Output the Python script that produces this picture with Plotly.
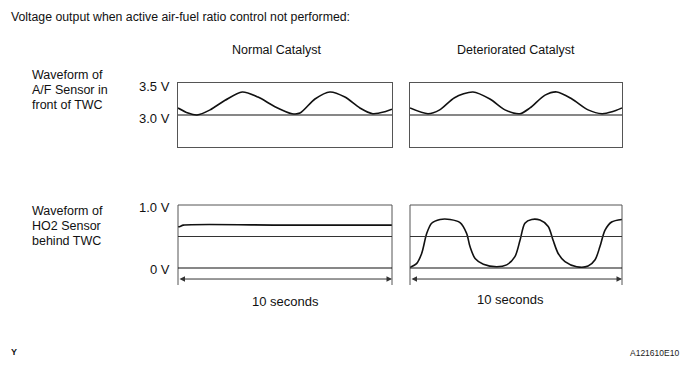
import plotly.graph_objects as go

# ---------------- data ----------------
title_text = "Voltage output when active air-fuel ratio control not performed:"
column_titles = ["Normal Catalyst", "Deteriorated Catalyst"]
row_labels_top = ["Waveform of", "A/F Sensor in", "front of TWC"]
row_labels_bot = ["Waveform of", "HO2 Sensor", "behind TWC"]
af_tick_vals = [3.5, 3.0]
af_tick_text = ["3.5 V", "3.0 V"]
ho2_tick_vals = [1.0, 0.0]
ho2_tick_text = ["1.0 V", "0 V"]
duration_label = "10 seconds"
duration_s = 10

# A/F sensor, normal catalyst (time s, voltage V)
af_normal_t = [0, 0.47, 0.89, 1.5, 2.2, 3.0, 3.74, 4.53, 5.33, 5.7, 6.4, 7.1, 7.8, 8.5, 9.1, 9.67, 10]
af_normal_v = [3.11, 3.03, 3.0, 3.08, 3.23, 3.36, 3.28, 3.13, 3.02, 3.03, 3.25, 3.36, 3.28, 3.11, 3.02, 3.05, 3.09]

# A/F sensor, deteriorated catalyst
af_det_t = [0, 0.85, 1.4, 2.1, 2.97, 3.77, 4.48, 5.19, 5.66, 6.37, 6.93, 7.64, 8.4, 9.06, 9.53, 10]
af_det_v = [3.11, 3.02, 3.08, 3.27, 3.36, 3.25, 3.08, 3.02, 3.11, 3.31, 3.36, 3.25, 3.08, 3.02, 3.05, 3.11]

# HO2 sensor, normal catalyst
ho2_normal_t = [0, 0.1, 0.25, 5, 10]
ho2_normal_v = [0.655, 0.66, 0.68, 0.68, 0.68]

# HO2 sensor, deteriorated catalyst
ho2_det_t = [0, 0.31, 0.55, 0.79, 1.02, 1.42, 1.89, 2.36, 2.67, 2.83, 3.07, 3.46, 4.09, 4.56, 4.95,
             5.19, 5.42, 5.74, 6.13, 6.52, 6.75, 6.99, 7.31, 7.86, 8.4, 8.73, 8.96, 9.2, 9.51, 10]
ho2_det_v = [0.01, 0.07, 0.23, 0.55, 0.71, 0.77, 0.77, 0.72, 0.55, 0.34, 0.15, 0.06, 0.02, 0.05, 0.18,
             0.44, 0.71, 0.77, 0.76, 0.66, 0.44, 0.23, 0.10, 0.02, 0.03, 0.13, 0.34, 0.60, 0.73, 0.77]

af_mid = 3.0
ho2_mid = 0.5
ho2_zero = 0.0

# ---------------- layout helpers ----------------
W, H = 688, 369
FONT = "Liberation Sans, Arial, sans-serif"


def px(x):
    return x / W


def py(y):
    return 1 - y / H


left_dom = [px(178), px(392)]
right_dom = [px(410), px(622)]
top_dom = [py(147), py(83)]
bot_dom = [py(285), py(205)]
af_range = [2.5, 3.5]
ho2_range = [-0.27, 1.0]
arrow_y = -0.175

fig = go.Figure()
wave_line = dict(color="#111111", width=1.6, shape="spline", smoothing=0.8)
fig.add_trace(go.Scatter(x=af_normal_t, y=af_normal_v, mode="lines", line=wave_line, xaxis="x", yaxis="y"))
fig.add_trace(go.Scatter(x=af_det_t, y=af_det_v, mode="lines", line=wave_line, xaxis="x2", yaxis="y2"))
fig.add_trace(go.Scatter(x=ho2_normal_t, y=ho2_normal_v, mode="lines", line=wave_line, xaxis="x3", yaxis="y3"))
fig.add_trace(go.Scatter(x=ho2_det_t, y=ho2_det_v, mode="lines", line=wave_line, xaxis="x4", yaxis="y4"))

box_color = "#555555"


def xax(dom, anchor, mirror):
    return dict(domain=dom, range=[0, duration_s], anchor=anchor, showgrid=False, zeroline=False,
                showticklabels=False, ticks="", showline=mirror, mirror=mirror,
                linecolor=box_color, linewidth=1, fixedrange=True)


def yax(dom, rng, anchor, mirror):
    return dict(domain=dom, range=rng, anchor=anchor, showgrid=False, zeroline=False,
                showticklabels=False, ticks="", showline=mirror, mirror=mirror,
                linecolor=box_color, linewidth=1, fixedrange=True)


shapes = []
annotations = []

# bottom panels: open box (top, left, right)
for xa, ya in [("x3", "y3"), ("x4", "y4")]:
    for (x0, y0, x1, y1) in [(0, 1, 1, 1), (0, 0, 0, 1), (1, 0, 1, 1)]:
        shapes.append(dict(type="line", xref=f"{xa} domain", yref=f"{ya} domain",
                           x0=x0, y0=y0, x1=x1, y1=y1, line=dict(color=box_color, width=1)))
    shapes.append(dict(type="line", xref=f"{xa} domain", yref=ya, x0=0, x1=1, y0=ho2_mid, y1=ho2_mid,
                       line=dict(color="#333333", width=1)))
    shapes.append(dict(type="line", xref=f"{xa} domain", yref=ya, x0=0, x1=1, y0=ho2_zero, y1=ho2_zero,
                       line=dict(color="#111111", width=1.2)))
    annotations.append(dict(x=duration_s, y=arrow_y, xref=xa, yref=ya, ax=0, ay=arrow_y, axref=xa, ayref=ya,
                            text="", showarrow=True, arrowhead=2, arrowside="end+start", arrowsize=1.1,
                            arrowwidth=1, arrowcolor="#333333"))

for cx, cy in [(285, 301), (510, 299)]:
    annotations.append(dict(x=px(cx), y=py(cy), xref="paper", yref="paper", text=duration_label,
                            showarrow=False, xanchor="center", yanchor="middle",
                            font=dict(size=13, color="#111", family=FONT)))

for ya in ["y", "y2"]:
    shapes.append(dict(type="line", xref=f"{'x' if ya == 'y' else 'x2'} domain", yref=ya, x0=0, x1=1,
                       y0=af_mid, y1=af_mid, line=dict(color="#111111", width=1.2)))

# tick value labels (left of left panels)
for v, t in zip(af_tick_vals, af_tick_text):
    annotations.append(dict(x=px(172), y=v, xref="paper", yref="y", text=t, showarrow=False,
                            xanchor="right", yanchor="middle", yshift=-3,
                            font=dict(size=13, color="#111", family=FONT)))
for v, t in zip(ho2_tick_vals, ho2_tick_text):
    annotations.append(dict(x=px(172), y=v, xref="paper", yref="y3", text=t, showarrow=False,
                            xanchor="right", yanchor="middle", yshift=-2,
                            font=dict(size=13, color="#111", family=FONT)))

# column titles
for cx, t in zip([276, 516], column_titles):
    annotations.append(dict(x=px(cx), y=py(50), xref="paper", yref="paper", text=t, showarrow=False,
                            xanchor="center", yanchor="middle", font=dict(size=12.5, color="#111", family=FONT)))

# row labels (one annotation per line, 15 px line pitch)
for y0, lines in [(75, row_labels_top), (211, row_labels_bot)]:
    for i, t in enumerate(lines):
        annotations.append(dict(x=px(30), y=py(y0 + 15 * i), xref="paper", yref="paper", text=t,
                                showarrow=False, xanchor="left", yanchor="middle", align="left",
                                font=dict(size=12.5, color="#111", family=FONT)))

# main title
annotations.append(dict(x=px(9), y=py(17), xref="paper", yref="paper", text=title_text, showarrow=False,
                        xanchor="left", yanchor="middle", font=dict(size=12.3, color="#111", family=FONT)))

# corner marks
annotations.append(dict(x=px(9), y=py(352), xref="paper", yref="paper", text="<b>Y</b>", showarrow=False,
                        xanchor="left", yanchor="middle", font=dict(size=9, color="#111", family=FONT)))
annotations.append(dict(x=px(681), y=py(353), xref="paper", yref="paper", text="A121610E10", showarrow=False,
                        xanchor="right", yanchor="middle", font=dict(size=8.5, color="#222", family=FONT)))

fig.update_layout(
    width=W, height=H, margin=dict(l=0, r=0, t=0, b=0),
    paper_bgcolor="white", plot_bgcolor="rgba(0,0,0,0)", showlegend=False,
    xaxis=xax(left_dom, "y", True), yaxis=yax(top_dom, af_range, "x", True),
    xaxis2=xax(right_dom, "y2", True), yaxis2=yax(top_dom, af_range, "x2", True),
    xaxis3=xax(left_dom, "y3", False), yaxis3=yax(bot_dom, ho2_range, "x3", False),
    xaxis4=xax(right_dom, "y4", False), yaxis4=yax(bot_dom, ho2_range, "x4", False),
    shapes=shapes, annotations=annotations,
)

fig.write_html("out.html", config={"displayModeBar": False},
               post_script="document.body.style.margin='0px';")
